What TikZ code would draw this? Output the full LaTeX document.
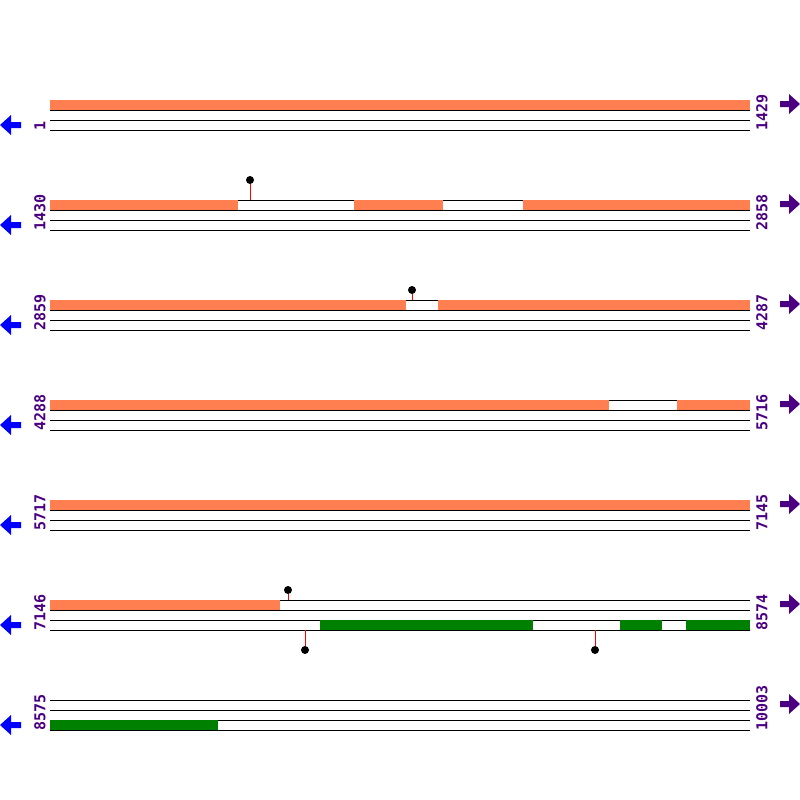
\documentclass[tikz,border=0pt]{standalone}
\usepackage{fontspec}
\setmainfont{DejaVu Sans}
\setmonofont{DejaVu Sans Mono}
\definecolor{orfcoral}{RGB}{255,127,80}
\definecolor{orfgreen}{RGB}{0,128,0}
\definecolor{posindigo}{RGB}{75,0,130}
\newcommand{\tracklines}[1]{%
  \draw[trackline] (50,#1) -- (750,#1) (50,#1+10) -- (750,#1+10)
    (50,#1+20) -- (750,#1+20) (50,#1+30) -- (750,#1+30);}
\newcommand{\revarrow}[1]{%
  \fill[blue] (0,#1) -- ++(11,-10) -- ++(0,7) -- ++(10,0) -- ++(0,6)
    -- ++(-10,0) -- ++(0,7) -- cycle;}
\newcommand{\fwdarrow}[1]{%
  \fill[posindigo] (800,#1) -- ++(-11,-10) -- ++(0,7) -- ++(-9,0) -- ++(0,6)
    -- ++(9,0) -- ++(0,7) -- cycle;}
\tikzset{
  trackline/.style={black,line width=1pt},
  poslabel/.style={rotate=90,anchor=west,inner sep=0pt,text=posindigo,
    font=\ttfamily\bfseries\fontsize{15}{15}\selectfont},
  stopdot/.style={circle,fill=black,inner sep=0pt,minimum size=8pt},
  stopstem/.style={red,line width=1pt}
}

\begin{document}
\begin{tikzpicture}[x=1pt,y=-1pt]
  \useasboundingbox[fill=white] (0,0) rectangle (800,800);
  % row 1
  \tracklines{100}
  \fill[orfcoral] (50,100) rectangle (750,110);
  \node[poslabel] (s1) at (40,131) {1};
  \node[poslabel] (e1) at (762,131) {1429};
  \fwdarrow{104}
  \revarrow{125}
  % row 2
  \tracklines{200}
  \fill[orfcoral] (50,200) rectangle (238,210);
  \fill[orfcoral] (354,200) rectangle (443,210);
  \fill[orfcoral] (523,200) rectangle (750,210);
  \node[stopdot] (d2) at (250,180) {};
  \coordinate (b2) at (250,200);
  \draw[stopstem] (b2) -- (d2);
  \node[poslabel] (s2) at (40,231) {1430};
  \node[poslabel] (e2) at (762,231) {2858};
  \fwdarrow{204}
  \revarrow{225}
  % row 3
  \tracklines{300}
  \fill[orfcoral] (50,300) rectangle (406,310);
  \fill[orfcoral] (438,300) rectangle (750,310);
  \node[stopdot] (d3) at (412,290) {};
  \coordinate (b3) at (412,300);
  \draw[stopstem] (b3) -- (d3);
  \node[poslabel] (s3) at (40,331) {2859};
  \node[poslabel] (e3) at (762,331) {4287};
  \fwdarrow{304}
  \revarrow{325}
  % row 4
  \tracklines{400}
  \fill[orfcoral] (50,400) rectangle (609,410);
  \fill[orfcoral] (677,400) rectangle (750,410);
  \node[poslabel] (s4) at (40,431) {4288};
  \node[poslabel] (e4) at (762,431) {5716};
  \fwdarrow{404}
  \revarrow{425}
  % row 5
  \tracklines{500}
  \fill[orfcoral] (50,500) rectangle (750,510);
  \node[poslabel] (s5) at (40,531) {5717};
  \node[poslabel] (e5) at (762,531) {7145};
  \fwdarrow{504}
  \revarrow{525}
  % row 6
  \tracklines{600}
  \fill[orfcoral] (50,600) rectangle (280,610);
  \fill[orfgreen] (320,620) rectangle (533,630);
  \fill[orfgreen] (620,620) rectangle (662,630);
  \fill[orfgreen] (686,620) rectangle (750,630);
  \node[stopdot] (d6) at (288,590) {};
  \coordinate (b6) at (288,600);
  \draw[stopstem] (b6) -- (d6);
  \node[stopdot] (d6a) at (305,650) {};
  \coordinate (b6a) at (305,630);
  \draw[stopstem] (b6a) -- (d6a);
  \node[stopdot] (d6b) at (595,650) {};
  \coordinate (b6b) at (595,630);
  \draw[stopstem] (b6b) -- (d6b);
  \node[poslabel] (s6) at (40,631) {7146};
  \node[poslabel] (e6) at (762,631) {8574};
  \fwdarrow{604}
  \revarrow{625}
  % row 7
  \tracklines{700}
  \fill[orfgreen] (50,720) rectangle (218,730);
  \node[poslabel] (s7) at (40,731) {8575};
  \node[poslabel] (e7) at (762,731) {10003};
  \fwdarrow{704}
  \revarrow{725}
\end{tikzpicture}
\end{document}
